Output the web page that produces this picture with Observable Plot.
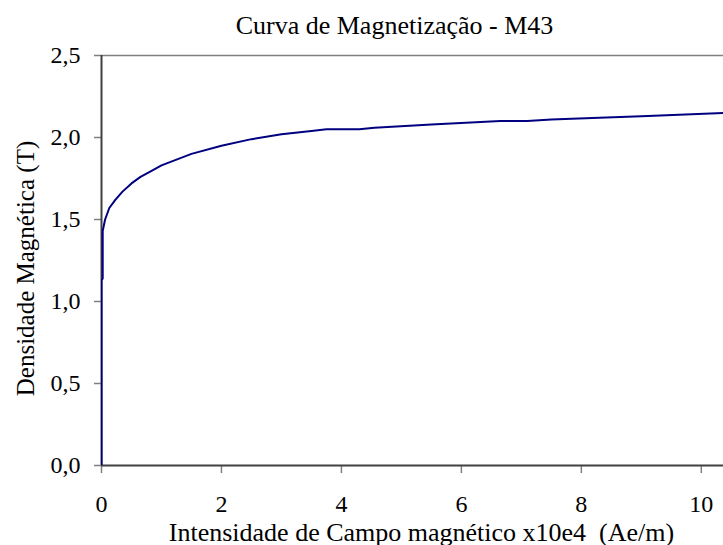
<!DOCTYPE html>
<html>
<head>
<meta charset="utf-8">
<script src="https://cdn.jsdelivr.net/npm/d3@7"></script>
<script src="https://cdn.jsdelivr.net/npm/@observablehq/plot@0.6"></script>
<style>
  html, body { margin: 0; padding: 0; background: #fff; }
</style>
</head>
<body>
<div id="chart"></div>
<script>
const titleText = "Curva de Magnetização - M43";
const xLabel = "Intensidade de Campo magnético x10e4  (Ae/m)";
const yLabel = "Densidade Magnética (T)";

const H = [0, 0, 0.02, 0.02, 0.06, 0.13, 0.23, 0.35, 0.5, 0.65, 0.85, 1.0, 1.5, 2.0, 2.5, 3.0, 3.5, 3.75, 4.3, 4.55, 5.5, 6.65, 7.1, 7.5, 8.3, 9.0, 10.4];
const B = [0, 1.13, 1.14, 1.43, 1.50, 1.57, 1.62, 1.67, 1.72, 1.76, 1.80, 1.83, 1.90, 1.95, 1.99, 2.02, 2.04, 2.05, 2.05, 2.06, 2.08, 2.10, 2.10, 2.11, 2.12, 2.13, 2.15];

const xTicks = [0, 2, 4, 6, 8, 10];
const yTicks = [0, 0.5, 1.0, 1.5, 2.0, 2.5];

const data = H.map((h, i) => ({h, b: B[i]}));
const serif = "'Liberation Serif', 'Times New Roman', serif";

const chart = Plot.plot({
  width: 723,
  height: 545,
  marginLeft: 101,
  marginRight: 0,
  marginTop: 55,
  marginBottom: 80,
  style: {fontFamily: serif, fontSize: "24px", color: "#000", background: "#fff"},
  x: {domain: [0, 10.37]},
  y: {domain: [0, 2.5]},
  marks: [
    Plot.ruleY([2.5], {stroke: "#808080", strokeWidth: 1.5}),
    Plot.axisX({ticks: xTicks, tickSize: 8, tickPadding: 21, fontSize: 24, stroke: "#808080", strokeWidth: 1.5, label: null, tickFormat: d => String(d)}),
    Plot.axisY({ticks: yTicks, tickSize: 7, tickPadding: 14, fontSize: 24, stroke: "#808080", strokeWidth: 1.5, label: null, tickFormat: d => d.toFixed(1).replace(".", ",")}),
    Plot.ruleY([0], {stroke: "#404040", strokeWidth: 2}),
    Plot.ruleX([0], {stroke: "#404040", strokeWidth: 2}),
    Plot.line(data, {x: "h", y: "b", stroke: "#000080", strokeWidth: 2, clip: true}),
    Plot.text([titleText], {frameAnchor: "top", dx: -18, dy: -22, lineAnchor: "bottom", fontSize: 26, fill: "#000"}),
    Plot.text([xLabel], {frameAnchor: "bottom", dx: 9, dy: 75, lineAnchor: "bottom", fontSize: 26, fill: "#000"}),
    Plot.text([yLabel], {frameAnchor: "left", dx: -76, dy: 8, rotate: -90, lineAnchor: "middle", textAnchor: "middle", fontSize: 25, fill: "#000"})
  ]
});
document.getElementById("chart").appendChild(chart);
</script>
</body>
</html>
